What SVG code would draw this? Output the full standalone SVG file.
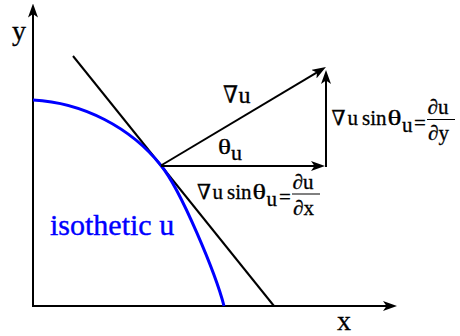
<svg xmlns="http://www.w3.org/2000/svg" width="460" height="336" viewBox="0 0 460 336">
<style>
  .ln{stroke:#000;stroke-width:2;fill:none}
  .t{font-family:"Liberation Serif","DejaVu Serif",serif;fill:#000;stroke:#000;stroke-width:0.3}
  .m{font-size:21px}
  .blue{fill:#0000ff;stroke:#0000ff;stroke-width:0.4}
</style>
<defs>
  <marker id="ah" viewBox="0 0 14 10" refX="8" refY="5" markerWidth="14" markerHeight="10" markerUnits="userSpaceOnUse" orient="auto">
    <path d="M14,5 L0,0 L3.5,5 L0,10 Z" fill="#000"/>
  </marker>
</defs>
<rect width="460" height="336" fill="#fff"/>
<g id="connectors">
  <line id="y-axis" class="ln" x1="33" y1="307" x2="33" y2="9.5" marker-end="url(#ah)"/>
  <line id="x-axis" class="ln" x1="32" y1="306" x2="391" y2="306" marker-end="url(#ah)"/>
  <line id="tangent" class="ln" x1="73" y1="56" x2="274" y2="306"/>
  <path id="isothetic-curve" d="M33,100 C83,102.5 131,127.7 161,165.5 C181,190 216,274.6 224,306" fill="none" stroke="#0000ff" stroke-width="3"/>
  <line id="grad" class="ln" x1="161" y1="165.5" x2="320.8" y2="70.1" marker-end="url(#ah)"/>
  <line id="dx-vec" class="ln" x1="161" y1="166" x2="319" y2="166" marker-end="url(#ah)"/>
  <line id="dy-vec" class="ln" x1="326" y1="167" x2="326" y2="76" marker-end="url(#ah)"/>
</g>
<g id="label-y"><text class="t" x="12" y="40" font-size="28">y</text></g>
<g id="label-x"><text class="t" x="337" y="330" font-size="28">x</text></g>
<g id="label-grad">
  <text class="t" x="223" y="103" font-size="24" textLength="15" lengthAdjust="spacingAndGlyphs">∇</text>
  <text class="t" x="238.5" y="103" font-size="24">u</text>
</g>
<g id="label-theta">
  <text class="t" x="218" y="154" font-size="22" textLength="13" lengthAdjust="spacingAndGlyphs">θ</text>
  <text class="t" x="231" y="159.5" font-size="22">u</text>
</g>
<g id="label-dy">
  <text class="t m" x="331.5" y="124.5" textLength="14" lengthAdjust="spacingAndGlyphs">∇</text>
  <text class="t m" x="347.5" y="124.5">u</text>
  <text class="t m" x="362" y="124.5">sin</text>
  <text class="t m" x="387.5" y="125" textLength="14" lengthAdjust="spacingAndGlyphs">θ</text>
  <text class="t m" x="402" y="131.5">u</text>
  <text class="t m" x="414" y="130">=</text>
  <text class="t m" x="427.5" y="113.5">∂u</text>
  <line x1="427" y1="119.5" x2="455" y2="119.5" stroke="#000" stroke-width="1"/>
  <text class="t m" x="428" y="140">∂y</text>
</g>
<g id="label-dx">
  <text class="t m" x="197" y="198.5" textLength="14" lengthAdjust="spacingAndGlyphs">∇</text>
  <text class="t m" x="212.5" y="198.5">u</text>
  <text class="t m" x="227" y="198.5">sin</text>
  <text class="t m" x="252.5" y="199" textLength="13.5" lengthAdjust="spacingAndGlyphs">θ</text>
  <text class="t m" x="266.5" y="205.5">u</text>
  <text class="t m" x="279" y="204">=</text>
  <text class="t m" x="292.5" y="188.5">∂u</text>
  <line x1="292" y1="194" x2="320" y2="194" stroke="#000" stroke-width="1"/>
  <text class="t m" x="293" y="214.5">∂x</text>
</g>
<g id="label-isothetic"><text class="t blue" x="50" y="235" font-size="30">isothetic u</text></g>
</svg>
